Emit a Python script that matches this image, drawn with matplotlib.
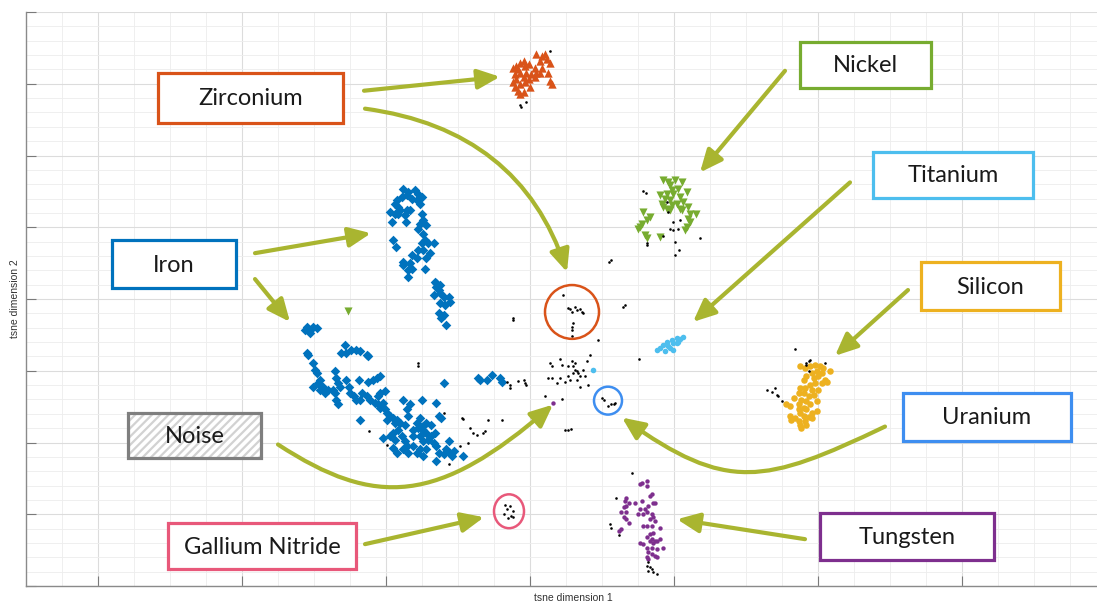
import matplotlib
matplotlib.use("Agg")
import matplotlib.pyplot as plt
from matplotlib.patches import Rectangle, Ellipse, FancyArrowPatch, ArrowStyle
from matplotlib.path import Path
from matplotlib.ticker import MultipleLocator

# ---------------- data (t-SNE coordinates) ----------------
iron_x = [-17.6,-16.9,-16.0,-15.5,-15.0,-15.7,-16.4,-17.1,-17.8,-18.5,-18.8,-18.3,-19.4,-18.8,-18.1,-17.1,-16.7,-17.4,-17.2,-18.3,-19.2,
          -15.3,-15.0,-14.8,-14.4,-15.3,-15.5,-14.8,-14.6,-14.1,-13.4,-15.0,-15.5,-14.8,-13.9,-14.4,-15.7,-16.4,-16.7,-17.6,-16.9,-16.4,
          -19.0,-18.6,-17.6,-16.9,-14.6,
          -13.2,-13.0,-12.7,-12.5,-13.4,-12.0,-11.3,-11.1,-12.5,-11.8,-12.7,-12.0,-12.3,-11.6,-13.0,-12.5,
          -31.0,-30.6,-30.1,-29.6,-30.6,-31.3,
          -25.7,-26.2,-25.5,-24.8,-24.1,-23.6,-22.7,-22.5,
          -31.0,-30.8,-30.1,-29.9,-29.6,-29.2,-29.4,-30.1,-29.2,-28.7,-28.5,-28.0,-27.3,-27.1,-26.9,-26.6,-26.4,-27.1,-26.9,-26.6,
          -25.5,-25.2,-25.0,-24.5,-24.1,-23.6,-23.4,-23.8,-22.5,-21.8,-21.3,-20.8,-22.7,-22.2,-21.5,-21.1,-20.8,-21.1,-20.8,-20.1,
          -20.4,-20.1,-19.9,-19.4,-19.0,-18.5,-18.1,-17.6,-17.1,-16.9,-16.7,-17.4,-18.8,-18.3,-19.0,-17.8,-17.4,-17.1,-18.8,-19.0,
          -18.5,-17.6,-16.9,-16.2,-15.7,-15.3,-14.8,-14.4,-15.3,-14.8,-14.4,-14.1,-13.7,-13.4,-13.0,-12.7,-12.0,-11.6,-11.1,-10.9,
          -10.6,-9.3,-13.0,-14.4,-15.3,-15.0,-15.7,-16.2,-15.5,-14.8,-13.0,-12.7,-12.3,-12.0,-11.3,-23.6,-19.9,-19.4,-20.4,-13.7,
          -13.2,-14.8,-16.2,
          -7.2,-6.9,-6.0,-5.3,-4.2,-3.9]
iron_y = [30.7,29.8,30.3,29.4,28.4,27.5,28.0,28.9,28.4,27.5,26.6,25.6,24.3,23.8,24.7,24.7,24.9,23.3,21.5,23.8,21.5,
          26.6,23.8,21.9,20.6,21.0,19.6,18.2,16.4,15.5,15.5,15.5,13.6,13.6,12.7,11.3,11.3,12.2,9.9,10.4,8.1,8.5,
          16.4,14.5,9.4,6.2,8.5,
          4.8,3.4,2.5,1.6,1.1,0.6,0.6,-0.7,-1.2,-1.7,-4.0,-4.4,-5.4,-7.2,4.4,3.9,
          -7.7,-8.6,-7.7,-8.1,-9.5,-8.6,
          -12.8,-15.1,-15.1,-14.2,-14.2,-14.6,-15.6,-16.0,
          -15.1,-15.6,-17.9,-19.7,-20.6,-22.5,-23.4,-24.4,-25.3,-24.4,-26.2,-25.3,-25.3,-20.2,-22.0,-23.4,-24.4,-26.2,-28.1,-29.4,
          -22.5,-24.4,-26.2,-27.1,-28.1,-28.1,-26.2,-22.5,-23.0,-22.5,-22.0,-21.6,-27.1,-28.1,-29.0,-27.1,-26.2,-29.4,-30.4,-25.7,
          -29.0,-30.8,-31.8,-32.7,-33.1,-33.6,-34.5,-28.1,-30.8,-32.7,-29.4,-35.0,-34.5,-36.4,-37.3,-38.2,-39.6,-41.0,-39.2,-41.5,
          -42.9,-41.9,-42.9,-41.0,-42.9,-41.9,-43.8,-41.9,-38.2,-36.4,-37.3,-39.2,-38.2,-40.1,-41.0,-42.9,-43.3,-41.9,-42.9,-43.8,
          -42.4,-43.8,-45.2,-34.5,-33.1,-28.1,-34.5,-36.4,-35.9,-35.5,-29.0,-32.7,-33.1,-23.4,-39.6,-33.6,-33.6,-38.2,-38.7,-35.0,
          -37.3,-39.6,-38.2,
          -22.0,-22.5,-22.5,-21.1,-22.0,-23.0]

zirconium_x = [-1.4,-0.9,-1.9,-2.3,-1.6,-0.7,-0.2,-2.1,-1.4,-0.5,-0.9,-1.9,-2.3,-1.4,-0.7,-0.2,-2.1,-1.6,-0.9,-1.4,
               0.0,0.2,0.7,0.9,1.6,2.1,2.3,2.8,1.4,0.9,1.4,2.5,2.8,3.0,1.6,0.7]
zirconium_y = [65.9,66.4,65.0,64.5,64.1,65.0,65.5,62.7,63.1,63.1,61.8,61.3,60.4,59.9,60.4,61.3,59.0,58.1,57.6,57.1,
               59.0,62.7,64.5,68.2,67.8,68.2,66.9,65.9,66.4,63.1,62.9,63.1,60.8,59.9,64.5,61.8]

nickel_x = [18.5,19.2,20.1,21.1,19.4,19.7,20.6,19.9,19.0,18.1,18.8,19.4,20.8,21.8,21.3,20.4,19.7,18.5,19.0,20.8,22.0,
            22.2,23.1,22.0,22.2,21.8,21.5,21.1,15.7,16.7,16.2,15.5,15.3,15.0,16.0,16.2,18.1,18.3,19.4,-25.3]
nickel_y = [33.1,32.6,33.1,32.6,31.7,30.3,30.7,29.4,29.4,28.9,28.0,27.5,28.4,29.8,27.0,26.6,26.1,25.6,25.2,25.2,25.6,
            23.8,23.8,22.4,21.5,20.1,19.2,24.7,24.3,22.9,21.9,21.0,20.1,19.6,17.8,16.9,17.3,26.6,24.7,-3.3]

titanium_x = [17.6,18.1,18.5,19.0,19.2,19.7,19.9,20.4,20.4,20.6,18.8,19.4,19.9,20.9,21.3,8.8]
titanium_y = [-14.2,-13.7,-12.8,-11.9,-13.2,-11.4,-12.3,-12.3,-10.9,-11.9,-14.6,-13.7,-14.2,-11.2,-10.6,-19.7]

silicon_x = [37.5,38.2,38.9,39.6,40.3,40.7,41.7,39.8,40.5,39.1,38.4,38.0,39.4,40.0,41.0,41.2,40.5,39.6,38.9,38.2,37.5,
             37.3,38.0,39.1,40.0,39.4,38.7,37.7,36.6,38.4,39.8,35.6,36.1,37.3,38.9,38.0,37.3,38.4,37.5,39.1,39.8,36.1,
             36.8,38.0,38.7,37.3,38.2,37.5,38.4,37.7,39.1,36.3]
silicon_y = [-18.8,-19.3,-18.8,-18.3,-18.8,-19.3,-20.2,-20.2,-20.6,-20.6,-21.6,-22.5,-22.0,-21.6,-22.5,-23.0,-23.4,-23.4,-23.9,-24.8,-24.8,
             -26.2,-26.2,-25.3,-25.3,-26.7,-27.1,-28.1,-27.6,-28.5,-28.5,-29.4,-29.7,-29.4,-29.4,-30.4,-30.8,-30.8,-31.8,-31.8,-31.3,-32.7,
             -33.1,-32.7,-32.9,-34.1,-34.1,-35.0,-35.0,-35.9,-33.1,-33.6]

tungsten_x = [15.5,16.2,15.3,16.2,13.4,13.2,13.7,13.4,13.0,12.7,13.4,13.0,13.4,13.7,12.7,12.3,14.6,15.5,15.3,16.0,16.4,
              16.7,16.9,17.1,17.4,15.0,15.7,16.2,16.9,16.7,17.1,17.4,16.2,15.7,16.9,18.1,17.1,16.7,16.2,16.9,17.4,17.1,
              17.6,16.7,15.3,15.7,16.2,16.9,18.1,18.5,17.6,16.4,16.9,17.4,16.2,17.6,16.4,3.2]
tungsten_y = [-51.2,-50.7,-51.7,-52.1,-55.4,-56.3,-56.8,-57.7,-58.1,-59.5,-59.5,-60.9,-61.4,-62.3,-64.2,-64.6,-56.8,-56.3,-58.6,-58.6,-57.7,
              -54.9,-54.4,-56.8,-56.8,-60.0,-60.0,-59.5,-60.0,-61.4,-60.9,-61.9,-63.2,-63.2,-63.2,-63.7,-65.1,-65.6,-66.4,-66.9,-67.4,-67.9,
              -67.4,-67.4,-67.9,-68.3,-69.3,-69.3,-66.9,-69.3,-69.7,-70.6,-71.1,-71.6,-72.0,-72.0,-72.5,-29.0]

noise_x = [-2.3,-2.4,-15.5,-15.6,-22.3,-19.9,-12.0,-9.5,-9.3,-8.3,-7.9,-7.4,-6.5,-6.3,-5.8,-3.9,-8.6,-9.7,-11.3,-3.2,-2.8,-2.8,
           -1.6,-0.9,-0.7,-0.5,
           4.6,5.3,5.6,5.8,6.3,6.5,6.9,7.2,7.3,6.0,5.9,5.8,5.8,
           12.9,9.5,8.3,15.2,4.2,2.8,3.0,4.4,5.3,5.8,7.9,6.3,6.5,6.7,6.0,6.9,7.4,7.6,5.3,5.6,4.2,4.9,3.7,2.5,3.0,6.5,6.9,8.1,
           6.3,6.0,2.1,4.4,4.9,5.3,5.7,11.0,13.2,
           10.0,10.3,10.9,11.2,11.6,11.8,
           15.7,16.1,19.0,19.2,19.9,19.4,19.9,20.6,20.8,23.6,20.1,20.7,20.1,16.2,16.2,18.5,11.3,
           36.8,38.4,38.7,38.9,41.0,38.7,32.9,33.6,34.0,34.3,34.5,35.0,38.4,
           14.1,12.0,11.1,11.2,12.4,16.4,16.7,16.9,16.4,17.1,17.6,16.2,
           2.8,-1.4,-1.3,-0.6,
           -3.5,-2.8,-3.2,-2.4,-3.6,-2.7,-3.1,-2.3]
noise_y = [-5.8,-5.4,-17.9,-18.8,-36.7,-40.6,-31.8,-33.1,-33.4,-35.9,-37.3,-37.8,-37.3,-36.9,-33.6,-33.6,-40.1,-41.0,-46.1,-23.0,-23.9,-24.8,
           -22.8,-22.5,-23.4,-23.9,
           1.1,-2.6,-2.9,-3.5,-2.1,-3.1,-2.9,-3.5,-4.0,-6.8,-7.7,-8.6,-10.3,
           -2.1,-11.4,-15.6,-16.8,-16.8,-17.9,-18.8,-18.3,-18.8,-17.4,-17.4,-19.7,-20.2,-20.6,-20.6,-21.6,-19.7,-21.6,-21.6,-22.5,-22.0,-23.0,-23.4,-22.0,-22.0,-22.5,-24.4,-23.9,
           -17.9,-18.8,-27.1,-27.9,-36.6,-36.4,-36.3,10.3,-1.7,
           -27.6,-28.1,-29.7,-29.4,-29.2,-29.0,
           30.0,29.6,27.0,24.3,21.5,19.6,19.2,19.6,21.9,17.1,15.9,13.6,12.2,15.5,15.0,17.5,10.8,
           -13.9,-17.9,-17.4,-17.0,-17.9,-20.2,-25.3,-26.0,-24.8,-26.7,-27.1,-28.3,-18.3,
           -48.6,-55.6,-62.8,-63.7,-65.8,-73.4,-74.8,-75.3,-75.7,-76.2,-76.7,-74.4,
           69.0,54.2,53.4,55.0,
           -57.5,-57.8,-58.6,-59.2,-59.8,-60.4,-61.0,-60.8]

labels = ["Zirconium", "Nickel", "Titanium", "Iron", "Silicon", "Noise", "Uranium", "Gallium Nitride", "Tungsten"]

# ---------------- figure ----------------
W, H = 1097, 604
fig = plt.figure(figsize=(W / 100, H / 100), dpi=100)
L, B, T = 26, 586, 12
ax = fig.add_axes([L / W, (H - B) / H, 1 - L / W, (B - T) / H])
XMIN, XMAX, YMIN, YMAX = -70, -70 + (W - L) / 7.2, -80, 80
ax.set_xlim(XMIN, XMAX)
ax.set_ylim(YMIN, YMAX)

ax.xaxis.set_major_locator(MultipleLocator(20))
ax.xaxis.set_minor_locator(MultipleLocator(5))
ax.yaxis.set_major_locator(MultipleLocator(20))
ax.yaxis.set_minor_locator(MultipleLocator(4))
ax.grid(which="major", color="#DCDCDC", lw=0.8)
ax.grid(which="minor", color="#EDEDED", lw=0.6)
ax.set_axisbelow(True)
ax.tick_params(which="major", direction="in", length=7, width=0.8, color="#7A7A7A",
               labelbottom=False, labelleft=False)
ax.tick_params(which="minor", length=0)
for s in ["top", "right"]:
    ax.spines[s].set_visible(False)
for s in ["left", "bottom"]:
    ax.spines[s].set_color("#8A8A8A")
    ax.spines[s].set_linewidth(1.0)
ax.set_xlabel("tsne dimension 1", fontsize=7.5, color="#333333", family="Liberation Sans", va="center")
ax.set_ylabel("tsne dimension 2", fontsize=7.5, color="#333333", family="Liberation Sans", va="center")
ax.xaxis.set_label_coords(0.5 - (1097 / 2 - 560) / 1071, -(598 - B) / (B - T))
ax.yaxis.set_label_coords(-(L - 15) / (W - L), 0.5)

# scatter clusters
ax.scatter(iron_x, iron_y, marker="D", s=24, color="#0072BD", lw=0, zorder=3)
ax.scatter(zirconium_x, zirconium_y, marker="^", s=36, color="#D95319", lw=0, zorder=3)
ax.scatter(nickel_x, nickel_y, marker="v", s=34, color="#77AC30", lw=0, zorder=3)
ax.scatter(titanium_x, titanium_y, marker="o", s=16, color="#4DBEEE", lw=0, zorder=3)
ax.scatter(silicon_x, silicon_y, marker="o", s=22, color="#EDB120", lw=0, zorder=3)
ax.scatter(tungsten_x, tungsten_y, marker="o", s=10, color="#7E2F8E", lw=0, zorder=3)
ax.scatter(noise_x, noise_y, marker="o", s=3.5, color="black", lw=0, zorder=4)

# ---------------- annotations (placed by picture pixel positions) ----------------
def P(px, py):
    return ((px - 530) / 7.2, (299 - py) / 3.6)

def box(x0, y0, x1, y1, text, color, hatch=False):
    (dx0, dy1) = P(x0, y1)
    w = (x1 - x0) / 7.2
    h = (y1 - y0) / 3.6
    if hatch:
        plt.rcParams["hatch.linewidth"] = 1.6
        ax.add_patch(Rectangle((dx0, dy1), w, h, facecolor="white", edgecolor="#D2D2D2",
                               hatch="////", lw=0, zorder=6))
        ax.add_patch(Rectangle((dx0, dy1), w, h, facecolor="none", edgecolor=color, lw=2.3, zorder=7))
    else:
        ax.add_patch(Rectangle((dx0, dy1), w, h, facecolor="white", edgecolor=color, lw=2.3, zorder=6))
    cx, cy = P((x0 + x1) / 2, (y0 + y1) / 2 + 1)
    ax.text(cx, cy, text, ha="center", va="center", fontsize=17, family="Lato",
            color="#1A1A1A", zorder=8)

box(158, 72, 343, 122, labels[0], "#D95319")
box(800, 41, 931, 87, labels[1], "#77AC30")
box(873, 151, 1033, 198, labels[2], "#4DBEEE")
box(112, 240, 236, 288, labels[3], "#0072BD")
box(921, 262, 1060, 310, labels[4], "#EDB120")
box(128, 413, 261, 459, labels[5], "#7F7F7F", hatch=True)
box(903, 393, 1071, 441, labels[6], "#3E8EF0")
box(168, 524, 356, 570, labels[7], "#E8587A")
box(820, 514, 994, 561, labels[8], "#7E2F8E")

# circles
def circ(px, py, rx, ry, color):
    c = P(px, py)
    ax.add_patch(Ellipse(c, 2 * rx / 7.2, 2 * ry / 3.6, facecolor="none", edgecolor=color, lw=1.8, zorder=5))

circ(572, 312, 27, 27, "#D95319")
circ(608, 401, 14, 14, "#3E8EF0")
circ(509, 512, 15, 17, "#E8587A")

ARROW = "#A9B530"
style = ArrowStyle("-|>", head_length=1.35, head_width=0.6)

def arrow(p0, p1):
    ax.add_patch(FancyArrowPatch(P(*p0), P(*p1), arrowstyle=style, mutation_scale=10,
                                 color=ARROW, lw=3, shrinkA=0, shrinkB=0, zorder=9))

def curve(pts):
    verts = [P(*p) for p in pts]
    codes = [Path.MOVETO] + [Path.CURVE4] * 3 if len(pts) == 4 else [Path.MOVETO] + [Path.CURVE3] * 2
    ax.add_patch(FancyArrowPatch(path=Path(verts, codes), arrowstyle=style, mutation_scale=10,
                                 color=ARROW, lw=3, zorder=9))

arrow((364, 90), (500, 76))
curve([(365, 108), (520, 129), (567, 272)])
arrow((785, 70), (700, 172))
arrow((850, 182), (693, 322))
arrow((908, 290), (835, 356))
arrow((255, 253), (371, 233))
arrow((255, 279), (290, 322))
curve([(278, 445), (376, 509), (438, 505), (553, 405)])
curve([(885, 427), (764, 485), (727, 493), (622, 418)])
arrow((365, 545), (484, 518))
arrow((805, 540), (677, 520))

fig.savefig("out.png", dpi=100)
